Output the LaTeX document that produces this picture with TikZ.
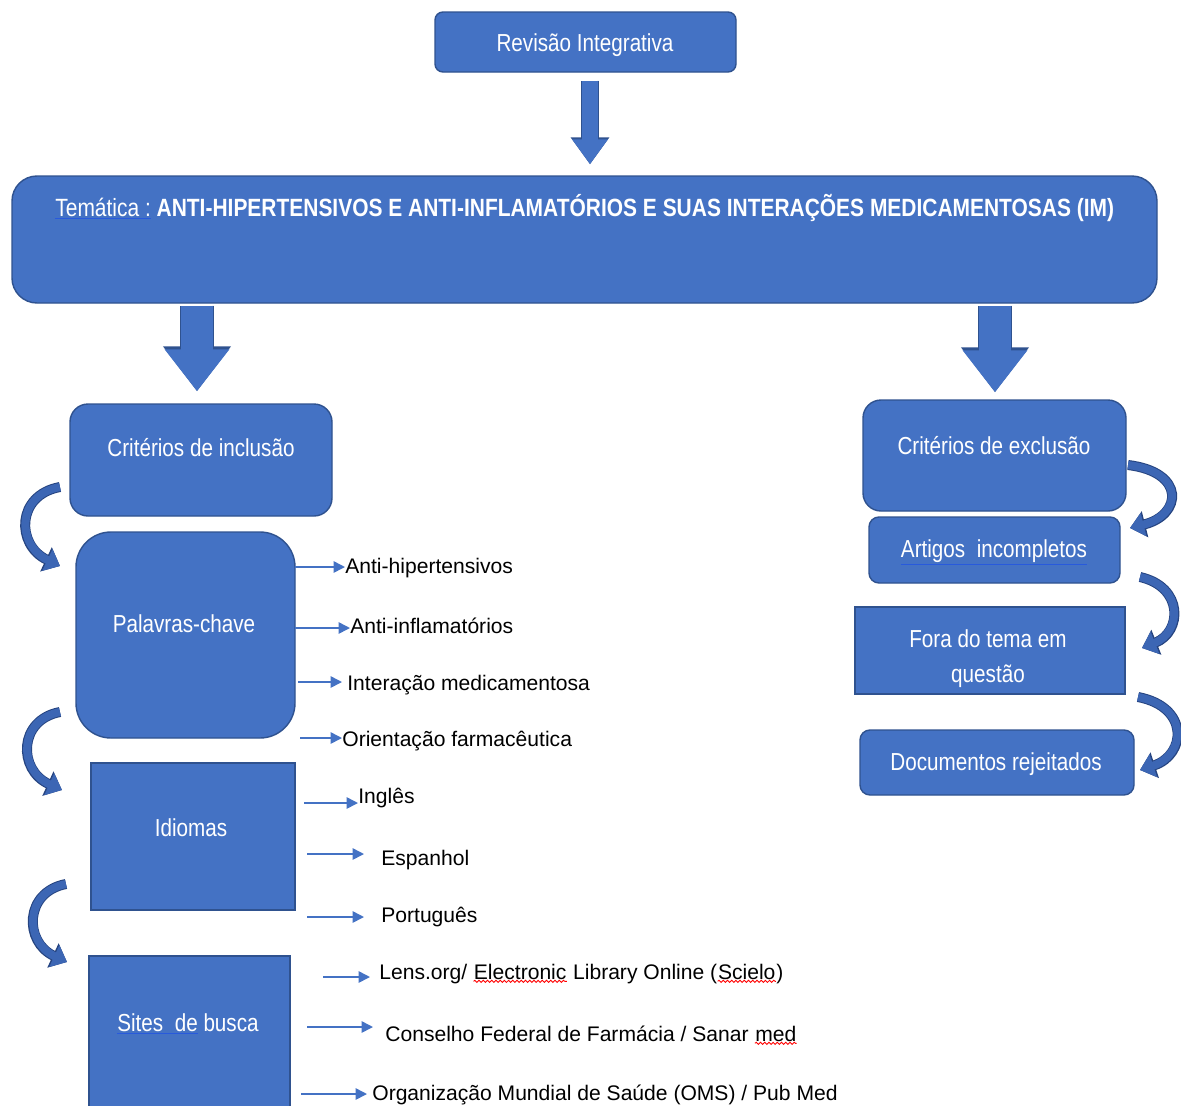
\documentclass[tikz,border=0pt]{standalone}
\usepackage{fontspec}
\usepackage{tikz}
\usetikzlibrary{arrows.meta,fit,calc,decorations.pathmorphing}
\setmainfont{Liberation Sans}
\newfontfamily\boxfont[FakeStretch=0.84]{Liberation Sans}
\definecolor{boxblue}{RGB}{68,114,196}
\definecolor{boxedge}{RGB}{47,82,143}
\definecolor{curveblue}{RGB}{60,102,180}
\definecolor{curveedge}{RGB}{38,68,128}
\definecolor{lineblue}{RGB}{68,114,196}
\definecolor{markblue}{RGB}{40,90,220}
\newcommand{\blueline}[1]{{\color{markblue}\underline{\color{white}#1}}}
\newcommand{\wavyred}[1]{\tikz[baseline=(w.base)]{\node[inner sep=0pt, anchor=base] (w) at (0,0) {#1};
  \draw[red, line width=0.5pt, decorate, decoration={snake, amplitude=0.6pt, segment length=2.4pt}]
    ([yshift=-1pt]w.south west) -- ([yshift=-1pt]w.south east);}}

\begin{document}
\begin{tikzpicture}[x=0.02cm, y=-0.02cm,
  bluebox/.style={draw=boxedge, fill=boxblue, line width=0.8pt, inner sep=0pt},
  boxtxt/.style={text=white, font=\boxfont\fontsize{14}{20}\selectfont, anchor=base, inner sep=0pt},
  itemtxt/.style={anchor=base west, inner sep=0pt, font=\fontsize{12}{14}\selectfont,
    text height=9pt, text depth=2.5pt},
  itemarrow/.style={lineblue, line width=0.9pt, -{Triangle[length=6.5pt, width=6.5pt]}},
  topblock/.style={boxblue, line width=0.32cm, -{Triangle[length=0.5cm, width=0.68cm]},
    preaction={draw=boxedge, line width=0.36cm, -{Triangle[length=0.54cm, width=0.74cm]}}},
  sideblock/.style={boxblue, line width=0.64cm, -{Triangle[length=0.84cm, width=1.24cm]},
    preaction={draw=boxedge, line width=0.68cm, -{Triangle[length=0.9cm, width=1.3cm]}}},
  curvearrow/.style={curveblue, line width=0.16cm, -{Triangle[length=0.28cm, width=0.46cm]},
    preaction={draw=curveedge, line width=0.2cm, -{Triangle[length=0.31cm, width=0.52cm]}}}]
  \useasboundingbox (0,0) rectangle (1181,1106);

  % Top of the chart
  \node[bluebox, rounded corners=0.16cm, fit={(435,12) (736,72)}] (revisao) {};
  \node[boxtxt] (revisao-txt) at (585,51) {Revisão Integrativa};
  \node[bluebox, rounded corners=0.5cm, fit={(12,176) (1157,303)}] (tematica) {};
  \node[boxtxt, anchor=base west, font=\boxfont\fontsize{14.2}{20}\selectfont] (tematica-txt) at (55,216) %
    {\blueline{Temática :} \textbf{ANTI-HIPERTENSIVOS E ANTI-INFLAMATÓRIOS E SUAS INTERAÇÕES MEDICAMENTOSAS (IM)}};

  \draw[topblock] ($(revisao.south)+(4.5,8)$) -- ($(tematica.north -| revisao.south)+(4.5,-11)$);

  % Inclusion side
  \node[bluebox, rounded corners=0.36cm, fit={(70,404) (332,516)}] (inclusao) {};
  \node[boxtxt] (inclusao-txt) at (201,456) {Critérios de inclusão};
  \node[bluebox, rounded corners=0.7cm, fit={(76,532) (295,738)}] (palavras) {};
  \node[boxtxt] (palavras-txt) at (184,632) {Palavras-chave};
  \node[bluebox, fit={(91,763) (295,910)}] (idiomas) {};
  \node[boxtxt] (idiomas-txt) at (191,836) {Idiomas};
  \node[bluebox, fit={(89,956) (290,1140)}] (sites) {};
  \node[boxtxt] (sites-txt) at (188,1031) {\blueline{Sites\ \ de} busca};

  \draw[sideblock] ($(inclusao.north |- tematica.south)+(-4,2)$) -- ($(inclusao.north)+(-4,-12)$);

  % Exclusion side
  \node[bluebox, rounded corners=0.36cm, fit={(863,400) (1126,511)}] (exclusao) {};
  \node[boxtxt] (exclusao-txt) at (994,454) {Critérios de exclusão};
  \node[bluebox, rounded corners=0.2cm, fit={(869,517) (1120,583)}] (artigos) {};
  \node[boxtxt] (artigos-txt) at (994,557) {\blueline{Artigos\ \ incompletos}};
  \node[bluebox, fit={(855,607) (1125,694)}] (fora) {};
  \node[boxtxt] (fora-txt1) at (988,647) {Fora do tema em};
  \node[boxtxt] (fora-txt2) at (988,682) {questão};
  \node[bluebox, rounded corners=0.2cm, fit={(860,730) (1134,795)}] (rejeitados) {};
  \node[boxtxt] (rejeitados-txt) at (996,770) {Documentos rejeitados};

  \draw[sideblock] ($(exclusao.north |- tematica.south)+(0.5,2)$) -- ($(exclusao.north)+(0.5,-7)$);

  % Curved arrows, left
  \coordinate (ca1) at (60,487);   \coordinate (cb1) at (60,566);
  \coordinate (ca2) at (60,712);   \coordinate (cb2) at (62,790);
  \coordinate (ca3) at (66,884);   \coordinate (cb3) at (67,962);
  \draw[curvearrow] (ca1) .. controls (16,495) and (16,545) .. (cb1);
  \draw[curvearrow] (ca2) .. controls (18,720) and (18,770) .. (cb2);
  \draw[curvearrow] (ca3) .. controls (24,892) and (24,942) .. (cb3);

  % Curved arrows, right
  \coordinate (ra1) at (1128,465); \coordinate (rb1) at (1130,528);
  \coordinate (ra2) at (1140,577); \coordinate (rb2) at (1142,648);
  \coordinate (ra3) at (1138,697); \coordinate (rb3) at (1140,770);
  \draw[curvearrow] (ra1) .. controls (1186,472) and (1182,515) .. (rb1);
  \draw[curvearrow] (ra2) .. controls (1184,587) and (1182,632) .. (rb2);
  \draw[curvearrow] (ra3) .. controls (1190,707) and (1186,755) .. (rb3);

  % Keywords
  \node[itemtxt] (kw1) at (345,573) {Anti-hipertensivos};
  \node[itemtxt] (kw2) at (350,633) {Anti-inflamatórios};
  \node[itemtxt] (kw3) at (347,690) {Interação medicamentosa};
  \node[itemtxt] (kw4) at (342,746) {Orientação farmacêutica};
  \coordinate (k1) at (295,567);
  \coordinate (k2) at (295,628);
  \coordinate (k3) at (298,682);
  \coordinate (k4) at (300,738);
  \draw[itemarrow] (k1) -- (k1 -| kw1.west);
  \draw[itemarrow] (k2) -- (k2 -| kw2.west);
  \draw[itemarrow, shorten >=0.1cm] (k3) -- (k3 -| kw3.west);
  \draw[itemarrow] (k4) -- (k4 -| kw4.west);

  % Languages
  \node[itemtxt] (lang1) at (358,803) {Inglês};
  \node[itemtxt] (lang2) at (381,865) {Espanhol};
  \node[itemtxt] (lang3) at (381,922) {Português};
  \coordinate (l1) at (304,803);
  \coordinate (l2) at (307,854);
  \coordinate (l3) at (307,917);
  \draw[itemarrow] (l1) -- (l1 -| lang1.west);
  \draw[itemarrow, shorten >=0.34cm] (l2) -- (l2 -| lang2.west);
  \draw[itemarrow, shorten >=0.34cm] (l3) -- (l3 -| lang3.west);

  % Search sites
  \node[itemtxt] (site1) at (379,979) {Lens.org/ \wavyred{Electronic} Library Online (\wavyred{Scielo})};
  \node[itemtxt] (site2) at (385,1041) {Conselho Federal de Farmácia / Sanar \wavyred{med}};
  \node[itemtxt] (site3) at (372,1100) {Organização Mundial de Saúde (OMS) / Pub Med};
  \coordinate (s1) at (323,977);
  \coordinate (s2) at (307,1027);
  \coordinate (s3) at (301,1094);
  \draw[itemarrow, shorten >=0.18cm] (s1) -- (s1 -| site1.west);
  \draw[itemarrow, shorten >=0.24cm] (s2) -- (s2 -| site2.west);
  \draw[itemarrow, shorten >=0.1cm] (s3) -- (s3 -| site3.west);
\end{tikzpicture}
\end{document}
